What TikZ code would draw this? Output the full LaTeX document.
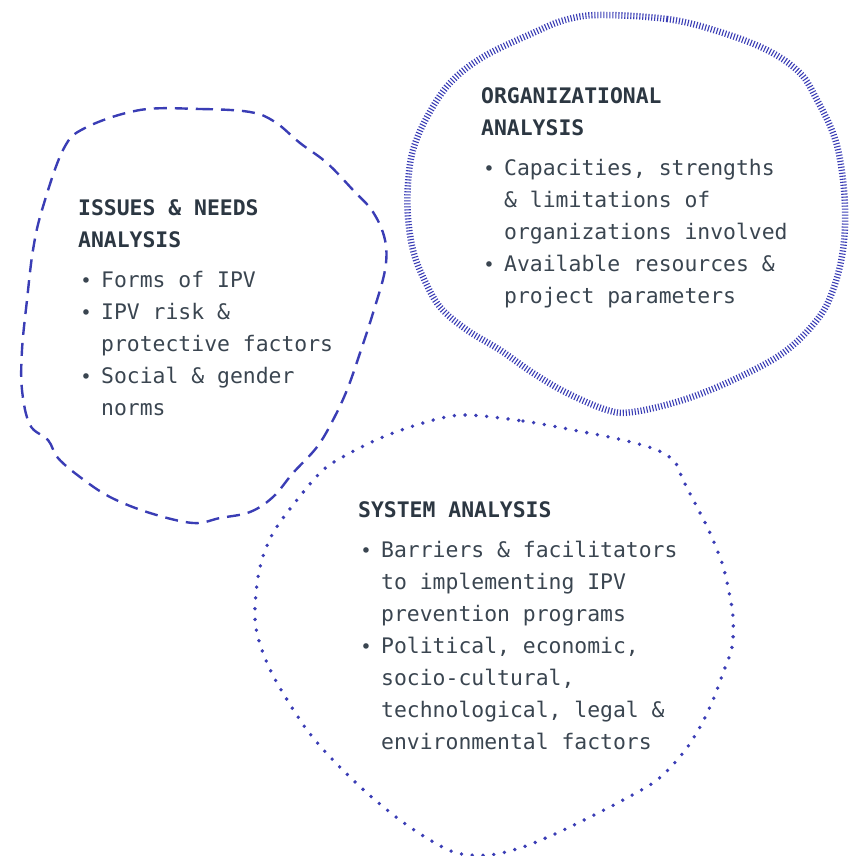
\documentclass[tikz,border=0pt]{standalone}
\usepackage{fontspec}
\setmonofont{DejaVu Sans Mono}
\definecolor{blobblue}{HTML}{3A3DB5}
\definecolor{titlecol}{HTML}{2C3742}
\definecolor{bodycol}{HTML}{3A4550}
\newcommand\bitem{\makebox[23pt][l]{\makebox[16pt][c]{\fontsize{19}{19}\selectfont\textbullet}}}
\newcommand\cont{\hspace*{23pt}}
\begin{document}
\begin{tikzpicture}[x=1pt,y=-1pt,
  blob/.style={draw=blobblue},
  dashblob/.style={blob,line width=2.4pt,dash pattern=on 13pt off 8pt},
  hatchblob/.style={blob,line width=6.5pt,dash pattern=on 1.1pt off 1.9pt},
  dotblob/.style={blob,line width=3.8pt,line cap=round,dash pattern=on 0pt off 10.8pt},
  block/.style={anchor=base west,inner sep=0pt,align=left,text=bodycol,
    font=\fontsize{21.4}{32}\selectfont\ttfamily}]
\useasboundingbox (0,0) rectangle (848,856);
% left dashed blob
\draw[dashblob] plot[smooth cycle,tension=0.6] coordinates {
 (140,110) (200,109) (250,112) (275,122) (300,143) (327,163) (353,190) (373,212)
 (385,240) (385,270) (373,313) (360,353) (347,390) (333,420) (317,447) (293,473)
 (273,497) (250,512) (220,518) (193,523) (150,513) (110,497) (80,477) (58,458)
 (48,440) (30,425) (22,390) (22,350) (27,300) (33,250) (42,210) (63,150) (85,128)};
% top right hatched blob
\draw[hatchblob] plot[smooth cycle,tension=0.6] coordinates {
 (600,15) (667,19) (717,31) (767,50) (800,73) (817,100) (833,133) (841,165)
 (845,207) (843,250) (833,290) (817,320) (783,353) (733,380) (683,400) (633,412)
 (607,410) (567,393) (533,373) (500,350) (467,330) (440,307) (423,277) (413,250)
 (408,217) (408,183) (413,150) (427,117) (450,83) (483,57) (533,33) (565,20)};
% bottom dotted blob
\draw[dotblob] plot[smooth cycle,tension=0.55] coordinates {
 (463,415) (523,421) (573,430) (623,440) (657,450) (675,462) (683,480) (697,507)
 (710,533) (722,563) (728,587) (733,617) (732,647) (723,673) (713,700) (700,727)
 (683,753) (657,780) (623,800) (590,817) (557,833) (523,847) (490,855) (457,853)
 (430,840) (400,820) (367,793) (333,760) (307,730) (283,693) (267,663) (257,633)
 (255,607) (260,567) (273,533) (297,500) (323,470) (350,453) (383,437) (423,423)};
% texts
\node[block] (issues) at (78,415) {{\bfseries\color{titlecol}ISSUES \& NEEDS}\\
 {\bfseries\color{titlecol}ANALYSIS}\\[8pt]
 \bitem Forms of IPV\\
 \bitem IPV risk \&\\
 \cont protective factors\\
 \bitem Social \& gender\\
 \cont norms};
\node[block] (org) at (481,303) {{\bfseries\color{titlecol}ORGANIZATIONAL}\\
 {\bfseries\color{titlecol}ANALYSIS}\\[8pt]
 \bitem Capacities, strengths\\
 \cont \& limitations of\\
 \cont organizations involved\\
 \bitem Available resources \&\\
 \cont project parameters};
\node[block] (sys) at (358,749) {{\bfseries\color{titlecol}SYSTEM ANALYSIS}\\[8pt]
 \bitem Barriers \& facilitators\\
 \cont to implementing IPV\\
 \cont prevention programs\\
 \bitem Political, economic,\\
 \cont socio-cultural,\\
 \cont technological, legal \&\\
 \cont environmental factors};
\end{tikzpicture}
\end{document}
